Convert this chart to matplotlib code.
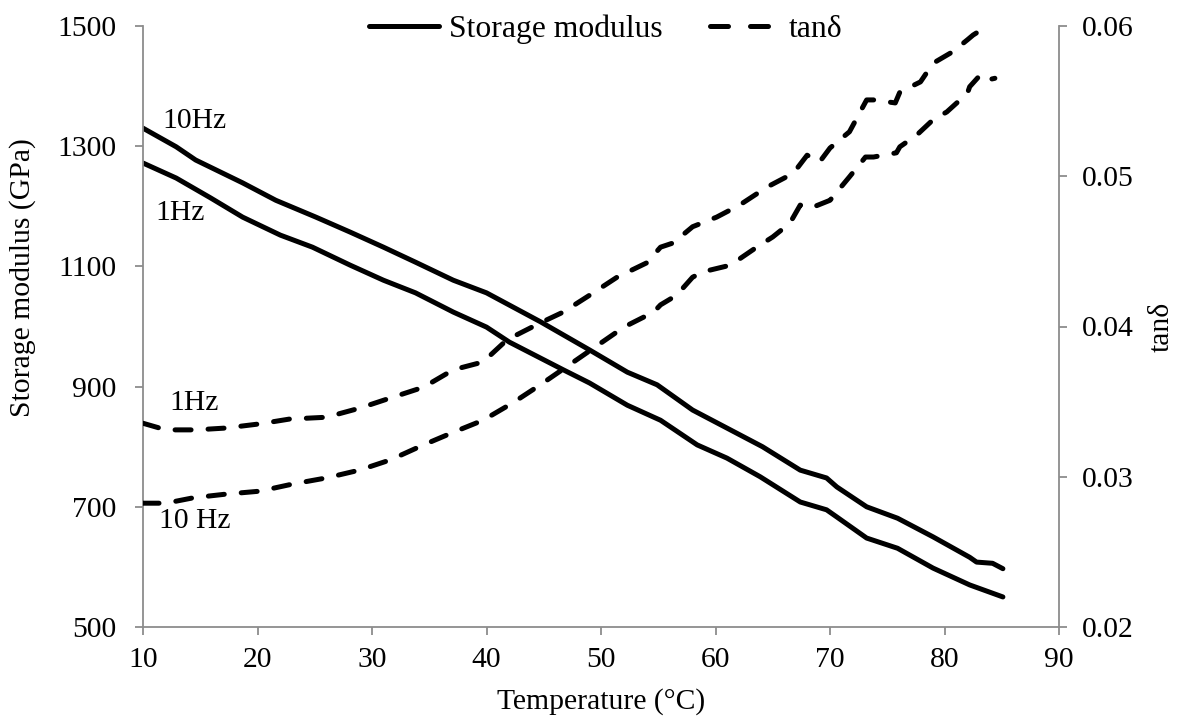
import matplotlib
matplotlib.use("Agg")
import matplotlib.pyplot as plt
from matplotlib.lines import Line2D

plt.rcParams['font.family'] = ['Liberation Serif', 'DejaVu Serif']

# Storage modulus (GPa) vs temperature (°C)
temp_e10 = [10, 12.9, 14.6, 18.7, 21.6, 25.1, 28.1, 31.0, 33.8, 37.1, 40.0, 44.7,
            49.0, 52.3, 54.9, 58.0, 61.0, 64.1, 67.4, 69.7, 70.6, 73.2, 75.9, 79.0,
            82.2, 82.8, 84.2, 85.1]
e_10hz = [1330, 1299, 1277, 1239, 1210, 1182, 1157, 1132, 1107, 1077, 1056, 1008,
          961, 924, 903, 861, 831, 800, 761, 748, 733, 700, 681, 650,
          616, 608, 606, 597]

temp_e1 = [10, 12.9, 15.9, 18.7, 22.0, 24.8, 28.1, 31.0, 33.8, 37.1, 40.0, 42.0,
           46.7, 49.0, 52.3, 55.2, 58.4, 61.0, 63.9, 67.4, 69.7, 70.6, 73.2, 75.9,
           79.0, 82.2, 85.1]
e_1hz = [1272, 1247, 1214, 1182, 1152, 1132, 1102, 1077, 1056, 1024, 999, 974,
         928, 906, 869, 844, 803, 781, 750, 708, 695, 683, 648, 631,
         598, 570, 550]

# Loss tangent vs temperature (°C)
temp_t1 = [10, 12.0, 14.6, 17.2, 20.2, 22.8, 26.0, 28.9, 31.6, 34.5, 37.1, 39.7,
           41.8, 44.7, 46.7, 49.0, 51.4, 54.0, 55.2, 56.3, 58.0, 60.1, 62.1, 64.5,
           66.8, 68.0, 69.1, 70.0, 71.7, 73.2, 73.8, 75.7, 76.1, 77.9, 79.0, 80.7,
           82.0, 82.5, 83.5]
tan_1hz = [0.03356, 0.03312, 0.03312, 0.03324, 0.03352, 0.03384, 0.03396, 0.03456,
           0.03524, 0.03596, 0.03712, 0.03764, 0.03912, 0.04024, 0.04096, 0.04208,
           0.04328, 0.04424, 0.04528, 0.04556, 0.04664, 0.04728, 0.04808, 0.04928,
           0.05020, 0.05140, 0.05096, 0.05188, 0.05296, 0.05508, 0.05508, 0.05488,
           0.05560, 0.05628, 0.05752, 0.05828, 0.05908, 0.05940, 0.05988]

temp_t10 = [10, 12.0, 14.4, 17.2, 20.2, 23.1, 26.0, 28.9, 31.6, 34.5, 37.1, 39.7,
            42.3, 44.7, 47.6, 52.0, 54.6, 55.2, 56.6, 58.0, 58.9, 61.3, 63.6, 65.0,
            66.5, 67.4, 68.3, 70.0, 71.7, 73.1, 73.8, 75.8, 76.1, 77.6, 79.0, 80.2,
            82.0, 82.2, 83.1, 83.7, 84.4]
tan_10hz = [0.02824, 0.02824, 0.02860, 0.02884, 0.02904, 0.02952, 0.02992, 0.03044,
            0.03112, 0.03212, 0.03296, 0.03376, 0.03492, 0.03612, 0.03764, 0.03996,
            0.04096, 0.04144, 0.04208, 0.04328, 0.04364, 0.04408, 0.04528, 0.04596,
            0.04688, 0.04808, 0.04788, 0.04840, 0.04996, 0.05128, 0.05128, 0.05156,
            0.05196, 0.05276, 0.05376, 0.05428, 0.05552, 0.05596, 0.05672, 0.05640,
            0.05652]

x_ticks = [10, 20, 30, 40, 50, 60, 70, 80, 90]
e_ticks = [500, 700, 900, 1100, 1300, 1500]
tan_ticks = [0.02, 0.03, 0.04, 0.05, 0.06]

FS = 21.3
FS_LEG = 22.8
LW = 3.6
AXIS_GRAY = '#8c8c8c'
dash = (0, (3.2, 3.4))
dash_key = (0, (3.6, 4.4))

W, H = 1177, 719
fig = plt.figure(figsize=(W / 100, H / 100), dpi=100)
ax = fig.add_axes([143 / W, 1 - 627 / H, (1059 - 143) / W, (627 - 26) / H])
ax2 = ax.twinx()

ax.plot(temp_e10, e_10hz, color='black', lw=LW, solid_capstyle='round')
ax.plot(temp_e1, e_1hz, color='black', lw=LW, solid_capstyle='round')
ax2.plot(temp_t1, tan_1hz, color='black', lw=LW, linestyle=dash, dash_capstyle='round')
ax2.plot(temp_t10, tan_10hz, color='black', lw=LW, linestyle=dash, dash_capstyle='round')

ax.set_xlim(10, 90)
ax.set_ylim(500, 1500)
ax2.set_ylim(0.02, 0.06)
ax.set_xticks(x_ticks)
ax.set_yticks(e_ticks)
ax2.set_yticks(tan_ticks)
ax2.set_yticklabels([f"{t:.2f}" for t in tan_ticks])

for a in (ax, ax2):
    a.spines['top'].set_visible(False)
    for s in ('left', 'right', 'bottom'):
        a.spines[s].set_color(AXIS_GRAY)
        a.spines[s].set_linewidth(1.3)
    a.tick_params(axis='both', direction='out', length=5.8, width=1.3,
                  color=AXIS_GRAY, labelsize=FS, labelcolor='black')
ax.spines['right'].set_visible(False)
ax2.spines['left'].set_visible(False)
ax2.spines['bottom'].set_visible(False)
ax.tick_params(axis='x', pad=8.4)
ax.tick_params(axis='y', pad=13.5)
ax2.tick_params(axis='y', pad=10.8)

# Axis titles
fig.text(601 / W, 1 - 702 / H, 'Temperature (°C)', fontsize=FS, ha='center', va='center')
fig.text(23 / W, 1 - 278 / H, 'Storage modulus (GPa)', fontsize=FS,
         ha='center', va='center', rotation=90)
fig.text(1162 / W, 1 - 327 / H, 'tanδ', fontsize=FS, ha='center', va='center', rotation=90)

# Curve labels
ax.text(11.7, 1342, '10Hz', fontsize=FS, va='center', ha='left')
ax.text(11.1, 1189, '1Hz', fontsize=FS, va='center', ha='left')
ax.text(12.3, 872, '1Hz', fontsize=FS, va='center', ha='left')
ax.text(11.4, 676, '10 Hz', fontsize=FS, va='center', ha='left')

handles = [Line2D([], [], color='black', lw=LW, solid_capstyle='round'),
           Line2D([], [], color='black', lw=LW, linestyle=dash_key, dash_capstyle='round')]
fig.legend(handles, ['Storage modulus', 'tanδ'], loc='center',
           bbox_to_anchor=(606 / W, 1 - 29 / H), ncol=2, frameon=False,
           fontsize=FS_LEG, handlelength=2.2, handletextpad=0.3, columnspacing=1.5,
           borderaxespad=0, borderpad=0)

fig.savefig('out.png', dpi=100)
